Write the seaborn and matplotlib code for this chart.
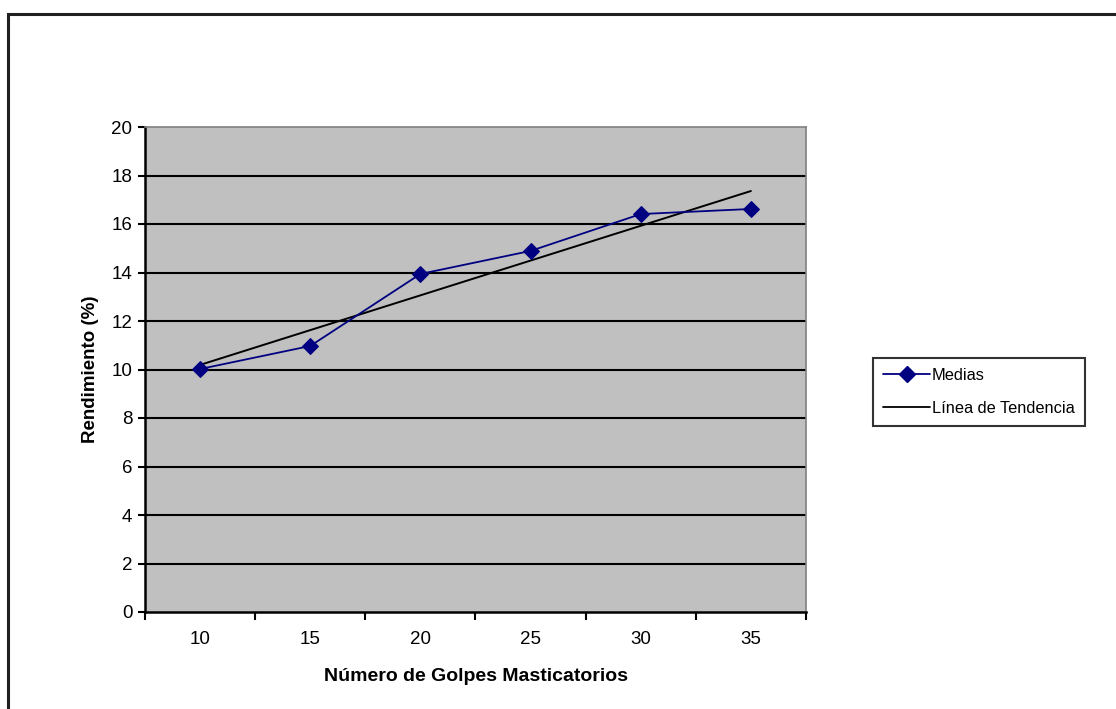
import matplotlib
matplotlib.use("Agg")
import matplotlib.pyplot as plt
import seaborn as sns
import pandas as pd
from matplotlib.patches import Rectangle
from matplotlib.lines import Line2D

categories = ["10", "15", "20", "25", "30", "35"]
medias = [10.02, 10.97, 13.94, 14.89, 16.41, 16.62]
trend_ends = [10.19, 17.36]
y_ticks = [0, 2, 4, 6, 8, 10, 12, 14, 16, 18, 20]

sns.set_theme(style="white")
plt.rcParams['font.family'] = ['Liberation Sans', 'DejaVu Sans']
plt.rcParams.update({"text.color": "black", "axes.labelcolor": "black",
                     "xtick.color": "black", "ytick.color": "black"})

fig = plt.figure(figsize=(11.16, 7.09), dpi=100)
ax = fig.add_axes([145/1116, 97/709, 661/1116, 485/709])

# outer chart border (only top & left visible in reference)
fig.patches.append(Rectangle((8/1116, -0.05), 1.2, (709-14)/709 + 0.05,
                             transform=fig.transFigure, fill=False,
                             edgecolor="#202020", linewidth=2.2))

ax.set_facecolor("#C0C0C0")

df = pd.DataFrame({"pos": range(len(categories)), "val": medias})
sns.lineplot(data=df, x="pos", y="val", ax=ax, color="#000080", marker="D",
             markersize=8, markeredgecolor="#000080", linewidth=1.3, zorder=4)
sns.lineplot(x=[0, len(categories) - 1], y=trend_ends, ax=ax, color="black",
             linewidth=1.4, zorder=3)

ax.set_xlim(-0.5, len(categories) - 0.5)
ax.set_ylim(0, 20)
ax.set_yticks(y_ticks)
ax.set_yticklabels([str(v) for v in y_ticks], fontsize=13.5)
ax.set_xticks(range(len(categories)))
ax.set_xticklabels(categories, fontsize=13.5)
ax.set_xticks([i - 0.5 for i in range(len(categories) + 1)], minor=True)
ax.tick_params(axis="x", which="major", length=0, pad=14)
ax.tick_params(axis="x", which="minor", length=6, width=1.5, color="black", direction="out", bottom=True)
ax.tick_params(axis="y", length=5, width=1.5, color="black", direction="out", left=True, pad=4)

for yv in y_ticks[1:-1]:
    ax.axhline(yv, color="black", linewidth=1.5, zorder=2)

for side in ["left", "bottom"]:
    ax.spines[side].set_color("black")
    ax.spines[side].set_linewidth(1.8)
for side in ["top", "right"]:
    ax.spines[side].set_color("#808080")
    ax.spines[side].set_linewidth(1.2)

ax.set_xlabel("Número de Golpes Masticatorios", fontsize=14, fontweight="bold", labelpad=14)
ax.set_ylabel("Rendimiento (%)", fontsize=13.5, fontweight="bold", labelpad=9)

handles = [Line2D([], [], color="#000080", marker="D", markersize=8, linewidth=1.3),
           Line2D([], [], color="black", linewidth=1.3)]
leg = fig.legend(handles, ["Medias", "Línea de Tendencia"], loc="center left",
                 bbox_to_anchor=(873/1116, (709-392)/709), fontsize=11.8,
                 frameon=True, fancybox=False, borderpad=0.6, handlelength=2.9,
                 handletextpad=0.1, labelspacing=1.1, borderaxespad=0)
leg.get_frame().set_edgecolor("black")
leg.get_frame().set_linewidth(1.5)

fig.savefig("out.png", dpi=100)
